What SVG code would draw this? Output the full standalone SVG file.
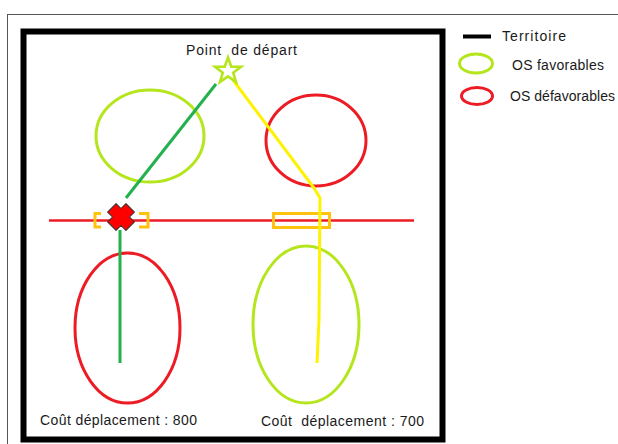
<svg xmlns="http://www.w3.org/2000/svg" width="618" height="444" viewBox="0 0 618 444">
<style>
text{font-family:"Liberation Sans",Arial,sans-serif;font-size:14px;fill:#1a1a1a}
.fav{fill:none;stroke:#B5E61D;stroke-width:3}
.def{fill:none;stroke:#ED1C24;stroke-width:3}
</style>
<rect width="618" height="444" fill="#fff"/>
<rect x="7.5" y="14.5" width="700" height="500" fill="none" stroke="#555" stroke-width="1"/>
<g id="territoire">
<rect x="23.5" y="31.5" width="419" height="408" fill="none" stroke="#000" stroke-width="6"/>
</g>
<g id="os-fav-haut"><ellipse class="fav" cx="150" cy="136" rx="54" ry="46"/></g>
<g id="os-def-haut"><ellipse class="def" cx="316" cy="140.5" rx="50" ry="45.5"/></g>
<g id="os-def-bas"><ellipse class="def" cx="127.5" cy="328" rx="52.5" ry="75"/></g>
<g id="os-fav-bas"><ellipse class="fav" cx="306" cy="324.5" rx="53" ry="78.5"/></g>
<g id="route">
<line x1="49" y1="220.5" x2="414" y2="220.5" stroke="#ED1C24" stroke-width="2.5"/>
<path d="M101,213.5 H95 V227 H101 M139,213.5 H148 V227 H139" fill="none" stroke="#FFC20E" stroke-width="3"/>
<rect x="273.5" y="213.5" width="56" height="14" fill="none" stroke="#FFC20E" stroke-width="3"/>
</g>
<g id="connecteurs">
<polyline points="216,84 126,198" fill="none" stroke="#22B14C" stroke-width="3"/>
<line x1="120" y1="230" x2="120" y2="363" stroke="#22B14C" stroke-width="3"/>
<polyline points="233,80 314,188 320,198 319,320 317,363" fill="none" stroke="#FFF200" stroke-width="3" stroke-linejoin="round"/>
</g>
<g id="obstacle">
<polygon transform="translate(121,217) rotate(45)" points="-6,-13 6,-13 6,-6 13,-6 13,6 6,6 6,13 -6,13 -6,6 -13,6 -13,-6 -6,-6" fill="#FF0000" stroke="#333" stroke-width="1" stroke-linejoin="round"/>
</g>
<g id="depart">
<polygon transform="translate(228,71) scale(1.05)" points="0,-13 3.1,-4.2 12.4,-4 5,1.6 7.6,10.5 0,5.2 -7.6,10.5 -5,1.6 -12.4,-4 -3.1,-4.2" fill="#fff" stroke="#B5E61D" stroke-width="2.5" stroke-linejoin="miter"/>
<text x="186" y="55" textLength="111" xml:space="preserve">Point  de départ</text>
</g>
<g id="couts">
<text x="40" y="425" textLength="157" font-size="15">Coût déplacement : 800</text>
<text x="261" y="426" textLength="163" font-size="15" xml:space="preserve">Coût  déplacement : 700</text>
</g>
<g id="legende">
<line x1="463" y1="36.5" x2="491" y2="36.5" stroke="#000" stroke-width="4"/>
<text x="502" y="41" textLength="64">Territoire</text>
<ellipse cx="476" cy="63.5" rx="16.5" ry="9.5" class="fav"/>
<text x="512" y="70" textLength="92">OS favorables</text>
<ellipse cx="477" cy="96" rx="15.5" ry="8.5" class="def"/>
<text x="510" y="101" textLength="105">OS défavorables</text>
</g>
</svg>
